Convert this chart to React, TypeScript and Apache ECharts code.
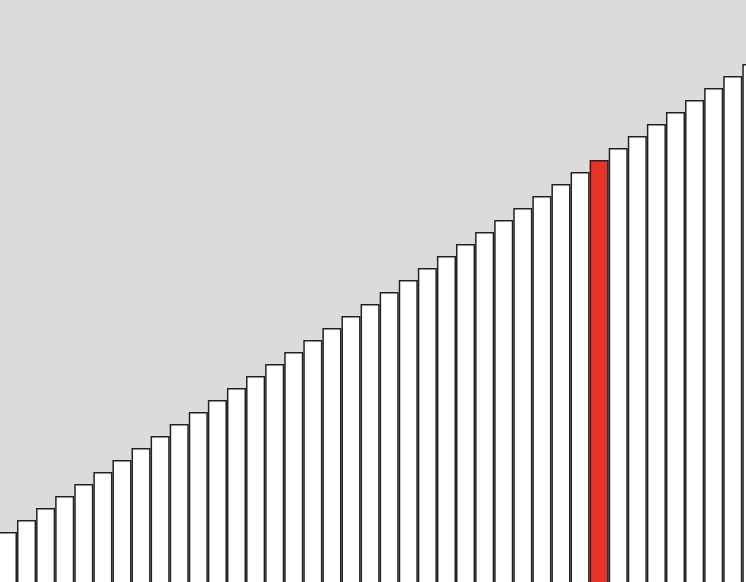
import { useEffect, useRef } from "react";
import * as echarts from "echarts";

// 40 consecutive bars, each one step taller than the previous
const categories = [
  "1", "2", "3", "4", "5", "6", "7", "8", "9", "10",
  "11", "12", "13", "14", "15", "16", "17", "18", "19", "20",
  "21", "22", "23", "24", "25", "26", "27", "28", "29", "30",
  "31", "32", "33", "34", "35", "36", "37", "38", "39", "40",
];
const values = [
  5, 6, 7, 8, 9, 10, 11, 12, 13, 14,
  15, 16, 17, 18, 19, 20, 21, 22, 23, 24,
  25, 26, 27, 28, 29, 30, 31, 32, 33, 34,
  35, 36, 37, 38, 39, 40, 41, 42, 43, 44,
];
const highlighted = "32";

export default function App() {
  const ref = useRef<HTMLDivElement>(null);

  useEffect(() => {
    document.body.style.margin = "0";
    if (!ref.current) return;
    const chart = echarts.init(ref.current, undefined, { renderer: "svg" });
    chart.setOption({
      animation: false,
      backgroundColor: "#dbdbdb",
      // grid runs past the page edges: the picture is a crop of a wider chart
      grid: {
        left: -2.1,
        top: -8,
        width: 763.5,
        height: 600,
        outerBoundsMode: "none",
        containLabel: false,
      },
      xAxis: {
        type: "category",
        data: categories,
        show: false,
      },
      yAxis: {
        type: "value",
        min: 0,
        max: 50,
        show: false,
      },
      series: [
        {
          type: "bar",
          barWidth: "100%",
          data: values.map((v, i) => ({
            value: v,
            itemStyle: {
              color: categories[i] === highlighted ? "#e63427" : "#ffffff",
            },
          })),
          itemStyle: { borderColor: "#222222", borderWidth: 1.5 },
          silent: true,
        },
      ],
    });
    return () => chart.dispose();
  }, []);

  return <div ref={ref} style={{ width: 746, height: 582 }} />;
}
